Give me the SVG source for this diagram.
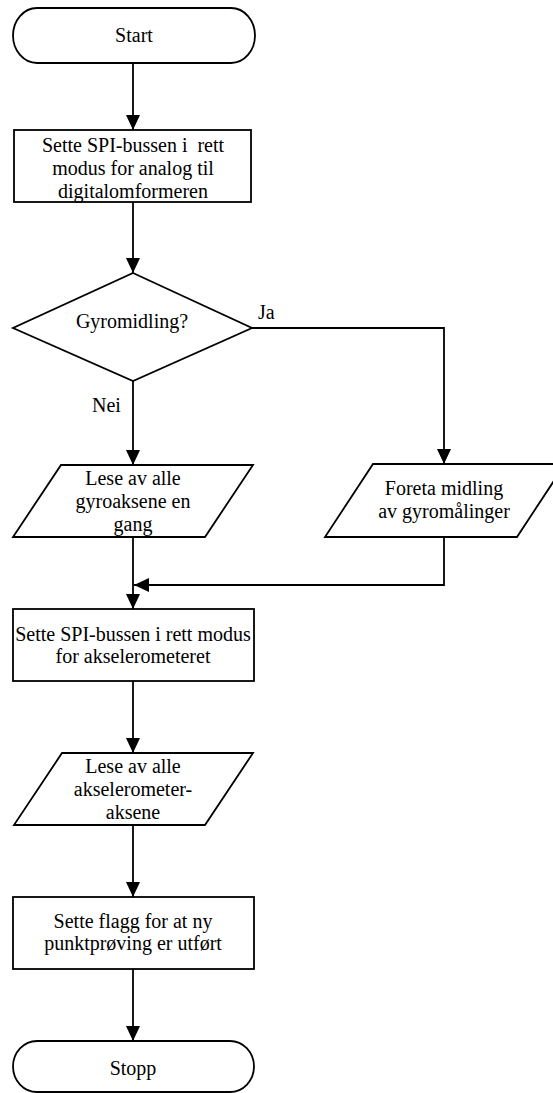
<svg xmlns="http://www.w3.org/2000/svg" width="553" height="1093" viewBox="0 0 553 1093">
<style>
.shape{fill:#fff;stroke:#000;stroke-width:1.8}
.conn{fill:none;stroke:#000;stroke-width:1.8}
.t{font-family:'Liberation Serif','Times New Roman','DejaVu Serif',serif;font-size:20px;fill:#000}
.c{text-anchor:middle}
</style>
<defs>
<marker id="arr" markerUnits="userSpaceOnUse" markerWidth="15" markerHeight="14" refX="15" refY="7" orient="auto">
<path d="M0,0 L15,7 L0,14 Z" fill="#000"/>
</marker>
</defs>
<rect width="553" height="1093" fill="#fff"/>
<g id="connectors">
<path class="conn" d="M133,63 V130" marker-end="url(#arr)"/>
<path class="conn" d="M133,202 V273" marker-end="url(#arr)"/>
<path class="conn" d="M133,381 V465" marker-end="url(#arr)"/>
<path class="conn" d="M252,328 H444 V464" marker-end="url(#arr)"/>
<path class="conn" d="M133,537 V609" marker-end="url(#arr)"/>
<path class="conn" d="M444,537 V585 H134" marker-end="url(#arr)"/>
<path class="conn" d="M133,681 V753" marker-end="url(#arr)"/>
<path class="conn" d="M133,825 V897" marker-end="url(#arr)"/>
<path class="conn" d="M133,969 V1041" marker-end="url(#arr)"/>
<text class="t" font-family="'Liberation Serif', serif" x="258" y="319">Ja</text>
<text class="t" font-family="'Liberation Serif', serif" x="92" y="412">Nei</text>
</g>
<g id="start" font-family="'Liberation Serif', serif">
<rect class="shape" x="13" y="8" width="242" height="55" rx="24" ry="27.5"/>
<text class="t c" x="134" y="42">Start</text>
</g>
<g id="box1" font-family="'Liberation Serif', serif">
<rect class="shape" x="14" y="130" width="237" height="72"/>
<text class="t c" x="133" y="152" xml:space="preserve">Sette SPI-bussen i  rett</text>
<text class="t c" x="133" y="175">modus for analog til</text>
<text class="t c" x="133" y="198">digitalomformeren</text>
</g>
<g id="decision" font-family="'Liberation Serif', serif">
<polygon class="shape" points="133,273 252,328 133,381 13,328"/>
<text class="t c" x="132" y="328">Gyromidling?</text>
</g>
<g id="gyro-read" font-family="'Liberation Serif', serif">
<polygon class="shape" points="61,465 253,465 205,537 13,537"/>
<text class="t c" x="133" y="485">Lese av alle</text>
<text class="t c" x="133" y="508">gyroaksene en</text>
<text class="t c" x="133" y="531">gang</text>
</g>
<g id="gyro-avg" font-family="'Liberation Serif', serif">
<polygon class="shape" points="373,464 565,464 517,537 325,537"/>
<text class="t c" x="444" y="495">Foreta midling</text>
<text class="t c" x="444" y="518">av gyromålinger</text>
</g>
<g id="box2" font-family="'Liberation Serif', serif">
<rect class="shape" x="13" y="609" width="241" height="72"/>
<text class="t c" x="133" y="641">Sette SPI-bussen i rett modus</text>
<text class="t c" x="133" y="663">for akselerometeret</text>
</g>
<g id="accel-read" font-family="'Liberation Serif', serif">
<polygon class="shape" points="62,753 253,753 205,825 14,825"/>
<text class="t c" x="133" y="773">Lese av alle</text>
<text class="t c" x="133" y="796">akselerometer-</text>
<text class="t c" x="133" y="819">aksene</text>
</g>
<g id="box3" font-family="'Liberation Serif', serif">
<rect class="shape" x="13" y="897" width="241" height="72"/>
<text class="t c" x="133" y="928">Sette flagg for at ny</text>
<text class="t c" x="133" y="950">punktprøving er utført</text>
</g>
<g id="stop" font-family="'Liberation Serif', serif">
<rect class="shape" x="13" y="1041" width="241" height="51" rx="24" ry="25.5"/>
<text class="t c" x="133" y="1075">Stopp</text>
</g>
</svg>
